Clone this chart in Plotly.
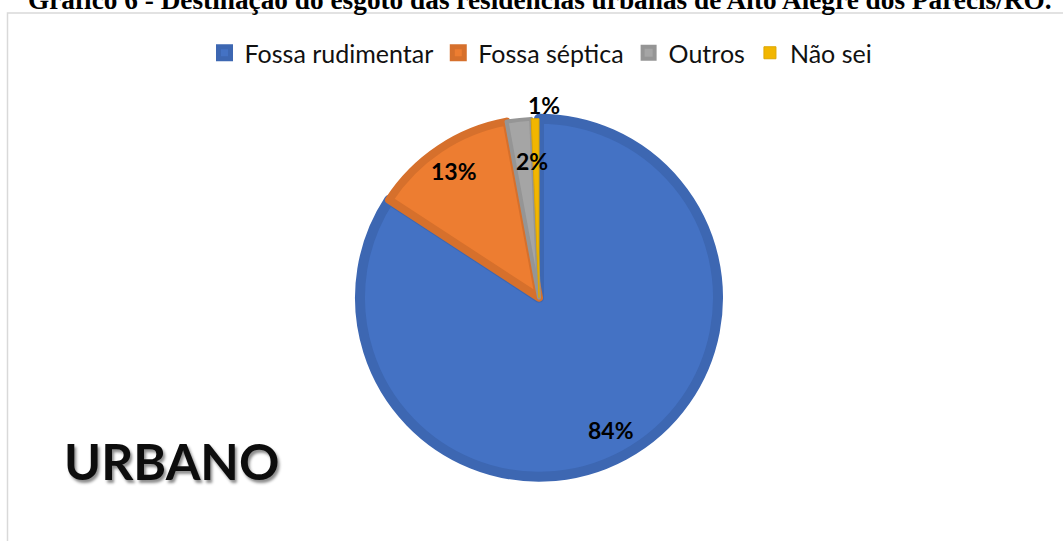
import math
import plotly.graph_objects as go

# ---- data ----
categories = ["Fossa rudimentar", "Fossa séptica", "Outros", "Não sei"]
values = [84.2, 12.9, 2.2, 0.7]
title_text = "Gráfico 6 - Destinação do esgoto das residências urbanas de Alto Alegre dos Parecis/RO."
side_label = "URBANO"

# ---- style ----
W, H = 1063, 541
fill_colors = ["#4472C4", "#ED7D31", "#A5A5A5", "#F2B600"]
line_colors = ["#3D67B2", "#D6702C", "#959595", "#DDA600"]
line_widths = [10, 8, 4, 1]

cx, cy, r_px = 539, 297.7, 179  # pie centre / radius in pixels

def px_x(x):
    return x / W

def px_y(y):
    return 1 - y / H

fig = go.Figure()
fig.add_trace(go.Pie(
    labels=categories,
    values=values,
    sort=False,
    direction="clockwise",
    rotation=0,
    textinfo="none",
    hoverinfo="label+percent",
    marker=dict(colors=fill_colors, line=dict(color=line_colors, width=line_widths)),
    domain=dict(x=[px_x(cx - r_px), px_x(cx + r_px)],
                y=[px_y(cy + r_px), px_y(cy - r_px)]),
    showlegend=True,
))

# percentage labels placed along each slice's bisector
total = sum(values)
label_radius = [0.82, 0.83, 0.745, 1.05]
label_nudge_deg = [0, 0, 3.5, 2.6]
R_out = r_px + 5
annotations = []
cum = 0
for v, rf, nd in zip(values, label_radius, label_nudge_deg):
    mid = (cum + v / 2) / total * 360 + nd
    cum += v
    lx = cx + rf * R_out * math.sin(math.radians(mid))
    ly = cy - rf * R_out * math.cos(math.radians(mid))
    annotations.append(dict(
        x=px_x(lx), y=px_y(ly), xref="paper", yref="paper",
        text=f"{round(v / total * 100)}%", showarrow=False,
        xanchor="center", yanchor="middle",
        font=dict(family="Lato", size=23, color="#000000", weight=700),
    ))

annotations.append(dict(
    x=px_x(171), y=px_y(461), xref="paper", yref="paper",
    text=f"<b>{side_label}</b>", showarrow=False,
    xanchor="center", yanchor="middle",
    font=dict(family="Lato", size=50, color="#0d0d0d",
              shadow="2px 3px 3px rgba(0,0,0,0.45)"),
))

annotations.append(dict(
    x=px_x(540), y=px_y(-0.5), xref="paper", yref="paper",
    text=f"<b>{title_text}</b>", showarrow=False,
    xanchor="center", yanchor="middle",
    font=dict(family="Liberation Serif", size=27.3, color="#000000"),
))

fig.update_layout(
    width=W, height=H,
    margin=dict(l=0, r=0, t=0, b=0),
    paper_bgcolor="white",
    plot_bgcolor="white",
    annotations=annotations,
    legend=dict(
        orientation="h", x=px_x(541), xanchor="center",
        y=px_y(53), yanchor="middle",
        font=dict(family="Lato", size=25, color="#111111"),
        itemwidth=30, bgcolor="rgba(0,0,0,0)",
    ),
    shapes=[dict(type="rect", xref="paper", yref="paper",
                 x0=px_x(7.5), x1=1.02, y0=-0.02, y1=px_y(13),
                 line=dict(color="#D9D9D9", width=1.5), fillcolor="rgba(0,0,0,0)",
                 layer="below")],
)

fig.write_html(
    "out.html",
    config={"displayModeBar": False},
    post_script="document.body.style.margin='0';document.body.style.overflow='hidden';",
)
